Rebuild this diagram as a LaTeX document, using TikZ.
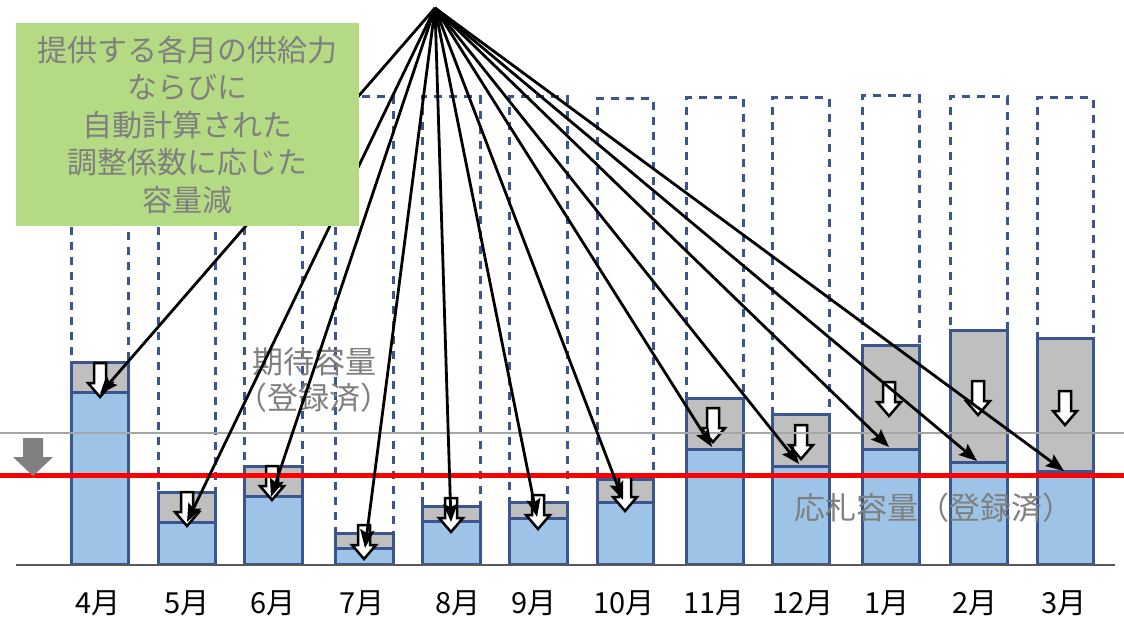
\documentclass[tikz,border=0pt]{standalone}
\usepackage{fontspec}
\setmainfont{Noto Sans CJK JP}
\usetikzlibrary{arrows.meta}
\definecolor{gbox}{HTML}{B4DB84}
\definecolor{barblue}{HTML}{9DC3E6}
\definecolor{barline}{HTML}{3A5590}
\definecolor{bargrey}{HTML}{BFBFBF}
\definecolor{txtgrey}{HTML}{7F7F7F}
\tikzset{
  dashcol/.style={draw=barline, line width=3pt, dash pattern=on 8pt off 7pt},
  barblk/.style={draw=barline, line width=3pt, fill=barblue},
  bargry/.style={draw=barline, line width=3pt, fill=bargrey},
  hollow/.style={draw=black, line width=2.5pt, fill=white, line join=miter},
  conn/.style={draw=black, line width=2.8pt, -{Stealth[length=18pt,width=14pt,inset=3pt]}},
  note/.style={text=txtgrey, align=center, font=\fontsize{30}{37.5}\selectfont},
  month/.style={text=black, font=\fontsize{29}{32}\selectfont, anchor=center}
}
\begin{document}
\begin{tikzpicture}[x=1pt,y=-1pt]
\useasboundingbox (0,0) rectangle (1124,620);
% dashed outlines
\foreach \l/\r/\t in {71/128/97,158/215/97,244/302/97,335/393/97,422/480/97,509/567/97,597/653/99,686/743/98,772/829/98,862/919/96,950/1007/97,1037/1093/98}
  \draw[dashcol] (\l,565) -- (\l,\t) -- (\r,\t) -- (\r,565);
% bars
\foreach \l/\r/\g/\b in {71/128/362/392,158/215/492/522,244/302/466/496,335/393/533/548,422/480/506/521,509/567/502/518,597/653/479/502,686/743/398/449,772/829/414/466,862/919/345/449,950/1007/330/462,1037/1093/338/471}{
  \draw[bargry] (\l,\g) rectangle (\r,\b);
  \draw[barblk] (\l,\b) rectangle (\r,564);
}
% hollow down arrows
\foreach \c/\t in {100/363,187/492,272/466,364/525,451/498,538/495,625/477,713/408,801/425,889/382,978/381,1065/391}
  \draw[hollow] (\c-6,\t) -- (\c+6,\t) -- (\c+6,\t+20) -- (\c+12,\t+20) -- (\c,\t+34) -- (\c-12,\t+20) -- (\c-6,\t+20) -- cycle;
% horizontal lines
\draw[draw=black!35, line width=2pt] (0,433) -- (1124,433);
\draw[draw=black!65, line width=2pt] (16,565) -- (1115,565);
\draw[draw=red, line width=5pt] (0,475) -- (1124,475);
% grey down arrow
\fill[black!50] (23,438) -- (43,438) -- (43,457) -- (53,457) -- (33,476) -- (13,457) -- (23,457) -- cycle;
% labels
\node[note, font=\fontsize{31}{36}\selectfont] (kitai) at (314,380) {期待容量\\（登録済）};
\node[note, font=\fontsize{31}{36}\selectfont] (osatsu) at (934,508) {応札容量（登録済）};
% connectors
\coordinate (apex) at (435,8);
\coordinate (t1) at (100,394);
\coordinate (t2) at (187,522);
\coordinate (t3) at (271,497);
\coordinate (t4) at (365,548);
\coordinate (t5) at (451,522);
\coordinate (t6) at (537,517);
\coordinate (t7) at (623,500);
\coordinate (t8) at (712,447);
\coordinate (t9) at (799,464);
\coordinate (t10) at (889,447);
\coordinate (t11) at (977,461);
\coordinate (t12) at (1064,471);
\foreach \i in {1,...,12}
  \draw[conn] (apex) -- (t\i);
% green box
\node[fill=gbox, minimum width=343pt, minimum height=203pt, inner sep=0pt, anchor=north west] (gb) at (16,23) {};
\node[note] (gbt) at (gb.center) {提供する各月の供給力\\ならびに\\自動計算された\\調整係数に応じた\\容量減};
% months
\foreach \x/\m in {98/4,187/5,273/6,362/7,458/8,534/9,624/10,714/11,803/12,887/1,975/2,1064/3}
  \node[month] (m\m) at (\x,603) {{\m}月};
\end{tikzpicture}
\end{document}
